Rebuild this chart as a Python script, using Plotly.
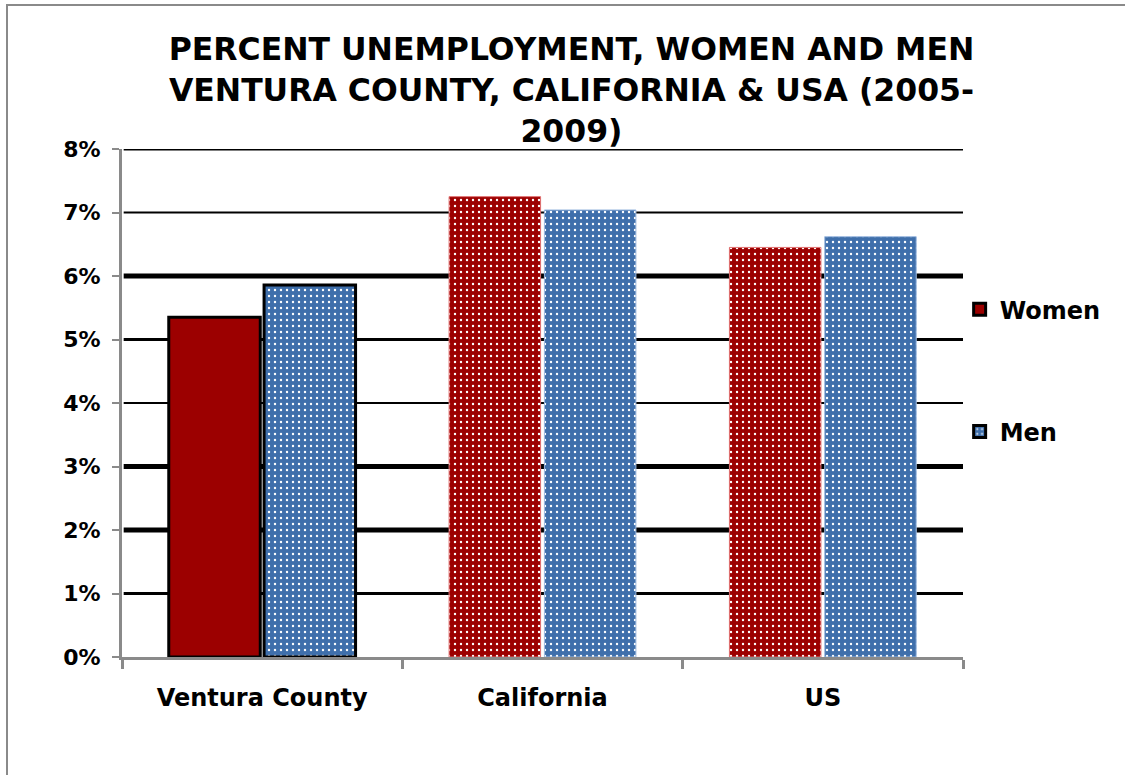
import plotly.graph_objects as go

# ---- data ----
categories = ["Ventura County", "California", "US"]
women = [5.35, 7.25, 6.45]
men = [5.86, 7.04, 6.62]
y_tick_values = [0, 1, 2, 3, 4, 5, 6, 7, 8]
y_tick_labels = ["0%", "1%", "2%", "3%", "4%", "5%", "6%", "7%", "8%"]
grid_levels = [1, 2, 3, 4, 5, 6, 7, 8]
grid_widths = [3, 5, 5, 2, 3, 5, 2, 3]

title_text = ("PERCENT UNEMPLOYMENT, WOMEN AND MEN<br>"
              "VENTURA COUNTY, CALIFORNIA & USA (2005-<br>2009)")

FONT = "DejaVu Sans"
RED = "#9c0000"
BLUE = "#3f6fab"

W, H = 1125, 775
L, R, T, B = 122, 162, 149, 118

fig = go.Figure()
fig.add_trace(go.Bar(
    name="Women", x=categories, y=women, legendgroup="w",
    marker=dict(
        color=RED,
        line=dict(color=["#000000", "#e07070", "#e07070"], width=[3, 1, 1]),
        pattern=dict(shape=["", ".", "."], fgcolor="white", bgcolor=RED,
                     size=6, solidity=0.12, fillmode="replace"),
    ),
))
fig.add_trace(go.Bar(
    name="Men", x=categories, y=men, legendgroup="m",
    marker=dict(
        color=BLUE,
        line=dict(color=["#000000", "#9fbbe0", "#9fbbe0"], width=[3, 1, 1]),
        pattern=dict(shape=[".", ".", "."], fgcolor="white", bgcolor=BLUE,
                     size=6, solidity=0.12, fillmode="replace"),
    ),
))

shapes = []
for lvl, wd in zip(grid_levels, grid_widths):
    shapes.append(dict(type="line", xref="paper", yref="y", x0=0.002, x1=1,
                       y0=lvl, y1=lvl, line=dict(color="black", width=wd),
                       layer="below"))

# outer frame (left and top edges visible)
def px_x(p):
    return (p - L) / (W - L - R)

def px_y(p):
    return (H - B - p) / (H - T - B)

shapes.append(dict(type="line", xref="paper", yref="paper",
                   x0=px_x(7), x1=px_x(7), y0=px_y(4), y1=px_y(790),
                   line=dict(color="#8a8a8a", width=2)))
shapes.append(dict(type="line", xref="paper", yref="paper",
                   x0=px_x(6), x1=px_x(1140), y0=px_y(5), y1=px_y(5),
                   line=dict(color="#8a8a8a", width=2)))

fig.update_layout(
    width=W, height=H,
    margin=dict(l=L, r=R, t=T, b=B),
    paper_bgcolor="white", plot_bgcolor="white",
    barmode="group", bargap=0.32, bargroupgap=0.04,
    title=dict(text=title_text, x=0.508, xanchor="center",
               y=1 - 60 / H, yanchor="top", yref="container",
               font=dict(family=FONT, size=31.5, color="black", weight="bold")),
    legend=dict(x=0.996, xanchor="left", y=0.728, yanchor="top",
                font=dict(family=FONT, size=24, color="black", weight="bold"),
                tracegroupgap=88, traceorder="grouped", bgcolor="rgba(0,0,0,0)"),
    shapes=shapes,
    font=dict(family=FONT, color="black"),
)
fig.update_yaxes(
    range=[0, 8], tickvals=y_tick_values, ticktext=y_tick_labels,
    showgrid=False, zeroline=False,
    showline=True, linecolor="#8a8a8a", linewidth=3,
    ticks="outside", ticklen=7, tickcolor="#8a8a8a", tickwidth=2,
    ticklabelstandoff=7,
    tickfont=dict(family=FONT, size=22, color="black", weight="bold"),
)
fig.update_xaxes(
    showgrid=False, showline=True, linecolor="#8a8a8a", linewidth=3,
    ticks="outside", tickson="boundaries", ticklen=9, tickcolor="#8a8a8a",
    tickwidth=3, ticklabelstandoff=17,
    tickfont=dict(family=FONT, size=24, color="black", weight="bold"),
)

fig.write_html("out.html")
